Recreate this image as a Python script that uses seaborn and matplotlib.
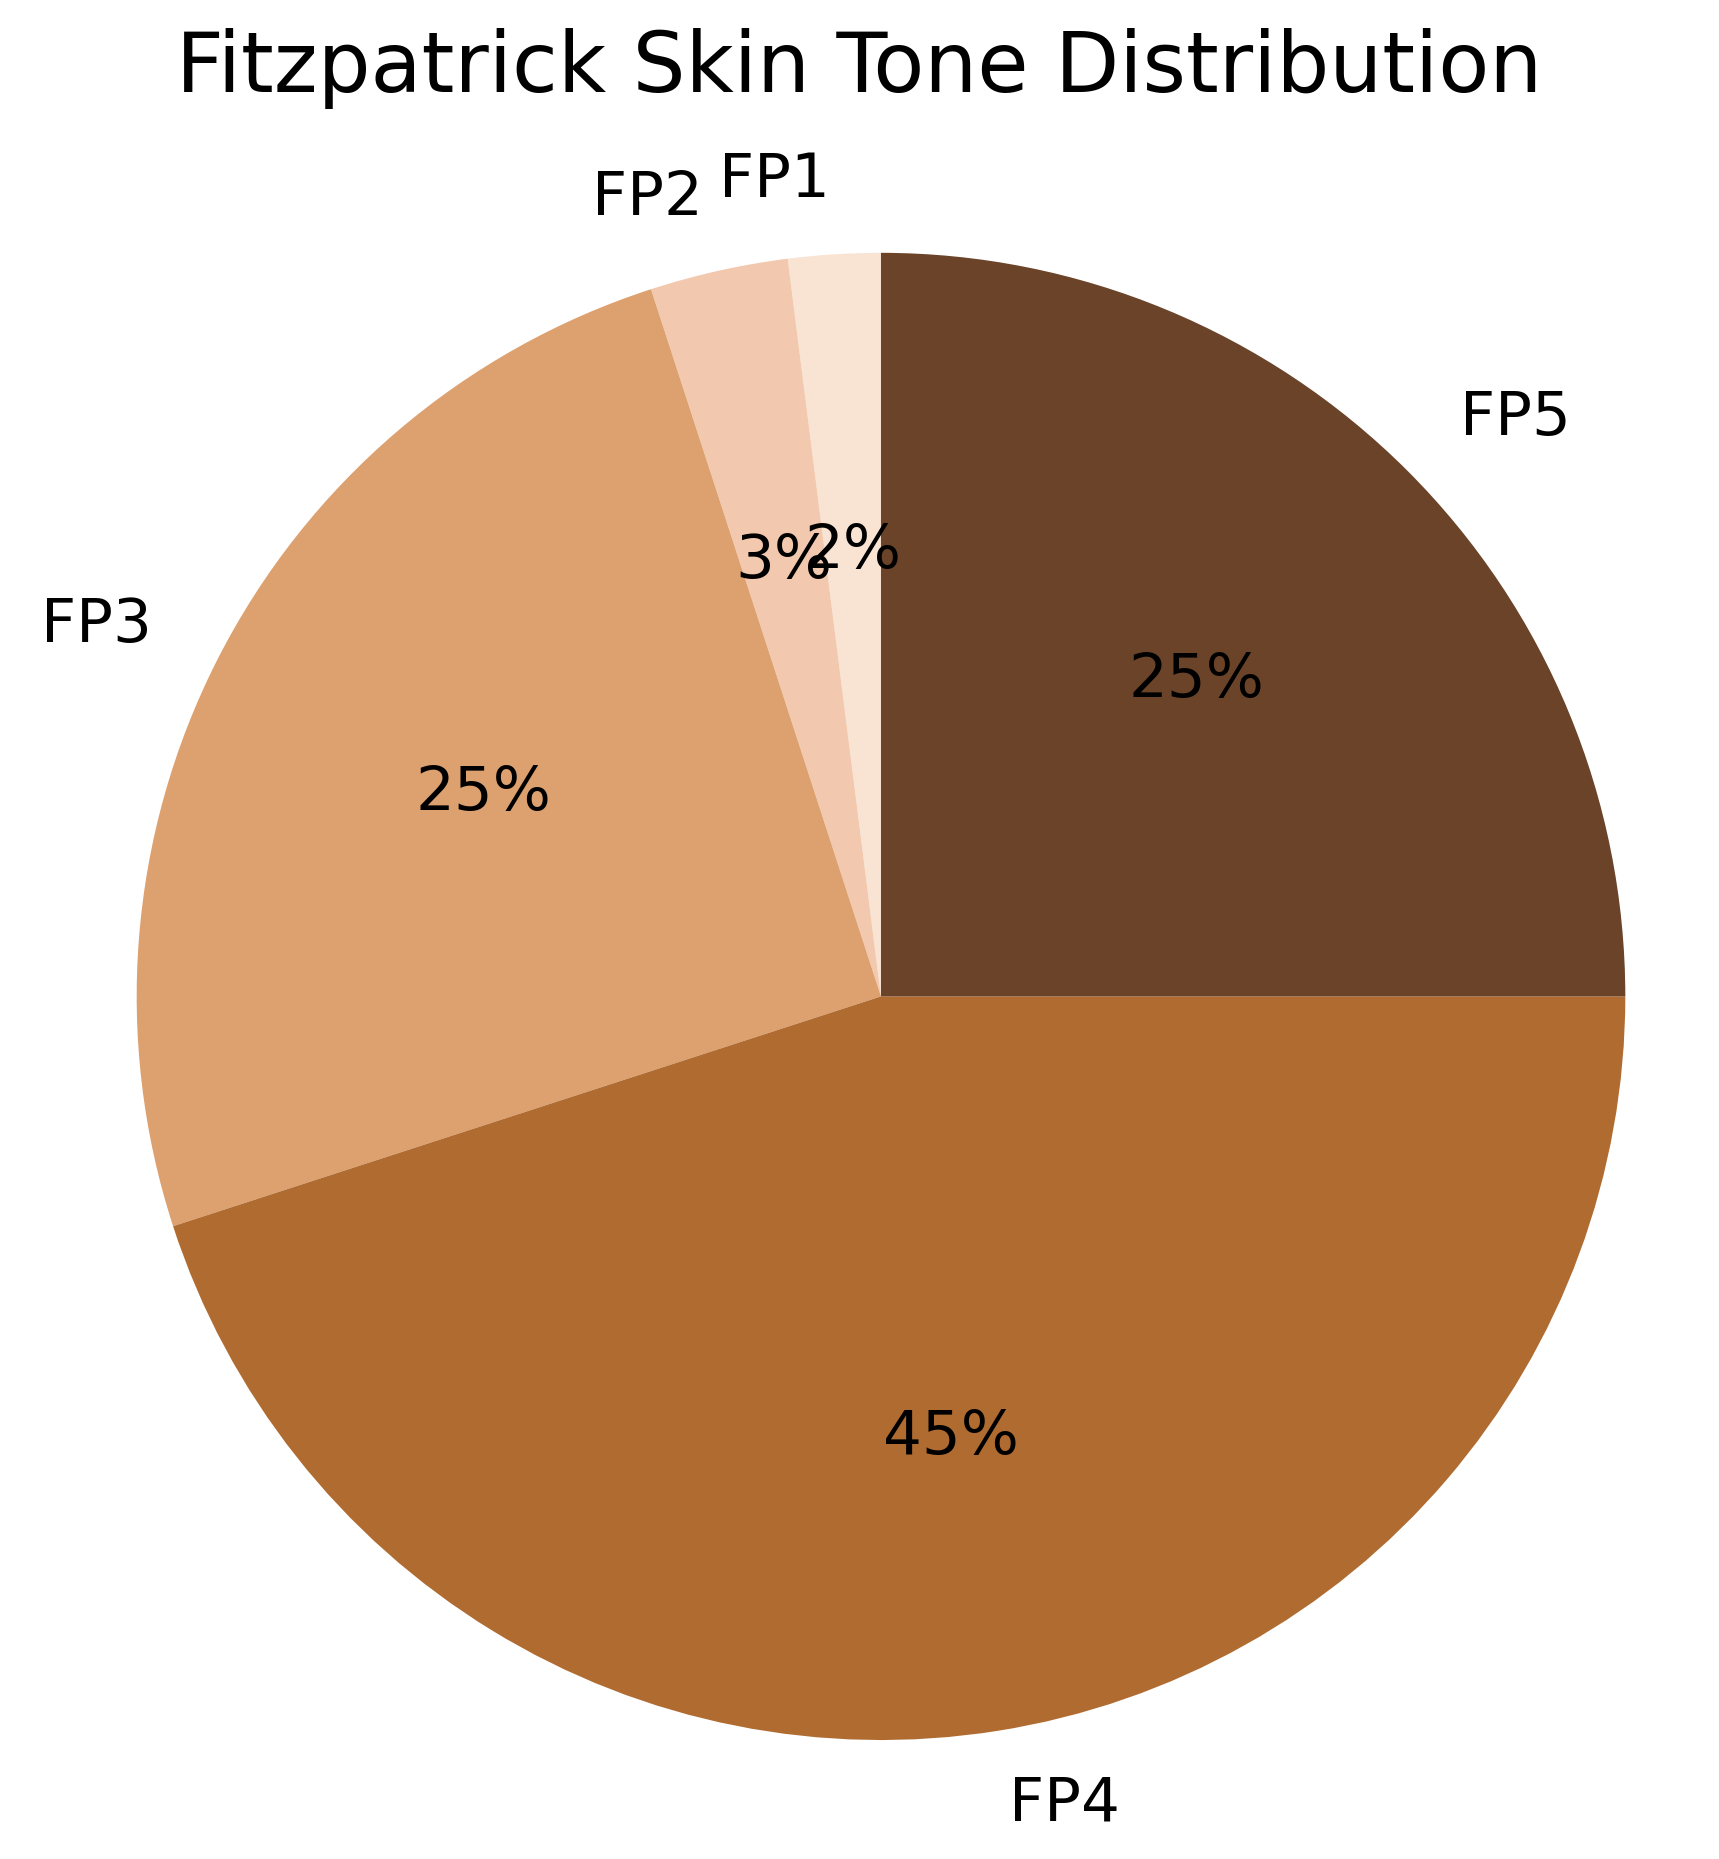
import matplotlib
matplotlib.use("Agg")
import matplotlib.pyplot as plt
import seaborn as sns

sns.set_theme(style="white")
plt.rcParams['font.family'] = ['DejaVu Sans']

labels = ["FP1", "FP2", "FP3", "FP4", "FP5"]
values = [2, 3, 25, 45, 25]
colors = ["#F9E4D4", "#F2C9AE", "#DDA06F", "#B06B30", "#6B4328"]

fig = plt.figure(figsize=(8.595, 9.295), dpi=200)
ax = fig.add_axes([0.5125 - 0.433, 1 - 0.536 - 0.4, 0.866, 0.8])
ax.pie(values, labels=labels, colors=colors, autopct='%1.0f%%', startangle=90,
       textprops={'fontsize': 22, 'color': 'black'},
       wedgeprops={'linewidth': 0})
ax.set_xlim(-1, 1)
ax.set_ylim(-1, 1)
ax.set_aspect('auto')
ax.axis('off')
fig.suptitle("Fitzpatrick Skin Tone Distribution", fontsize=30, y=0.985, color='black')
fig.savefig("out.png", dpi=200)
